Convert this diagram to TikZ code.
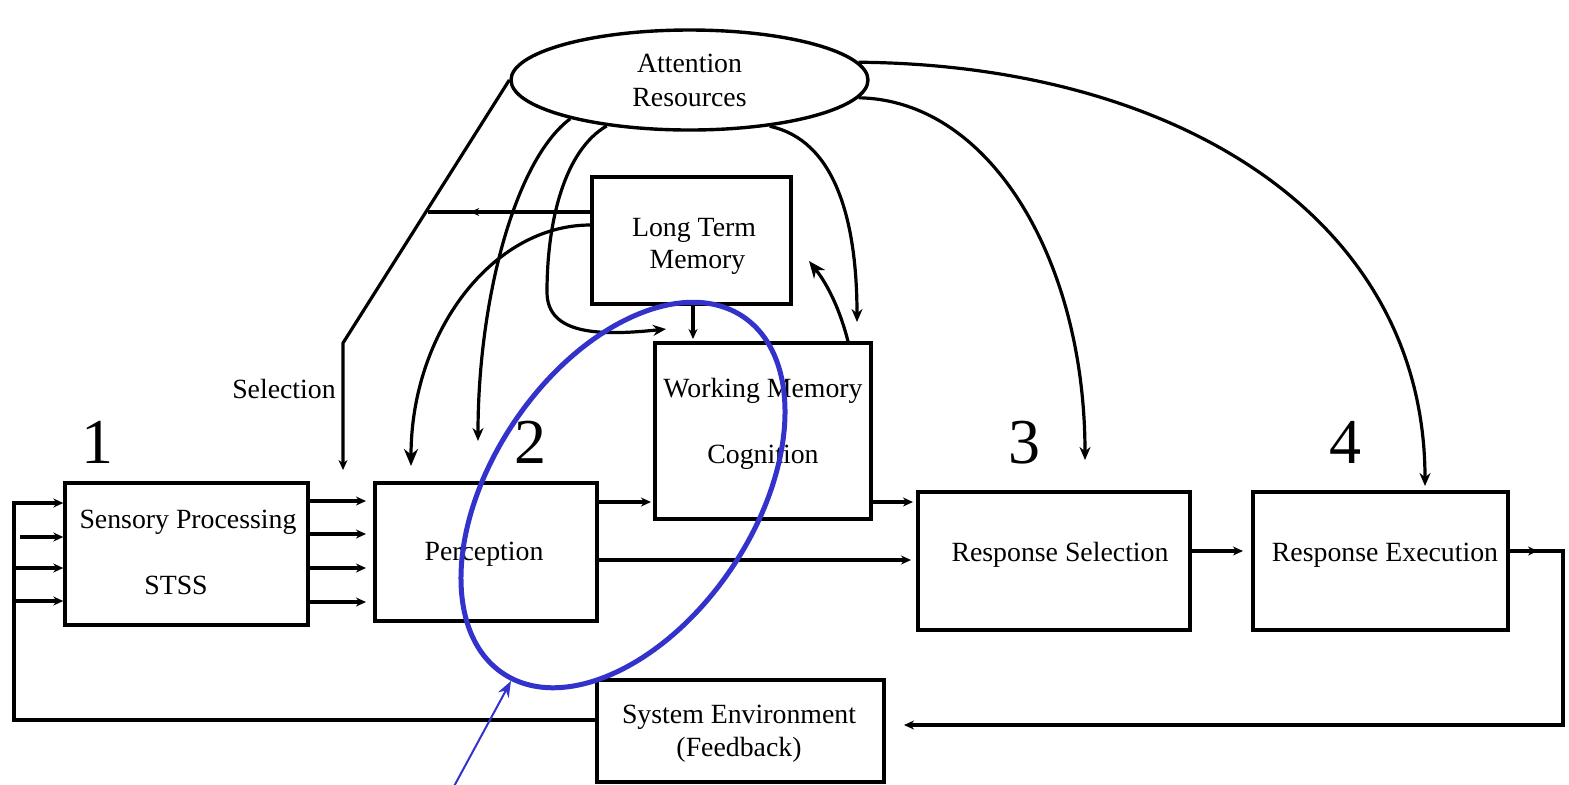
\documentclass[tikz,border=0pt]{standalone}
\usepackage{fontspec}
\setmainfont{Liberation Serif}
\usetikzlibrary{arrows.meta,shapes.geometric,decorations.markings}
\definecolor{markblue}{RGB}{51,51,204}
\begin{document}
\begin{tikzpicture}[x=0.5pt,y=-0.5pt,
  line width=1.6pt,
  box/.style={draw, line width=1.7pt, rectangle, inner sep=0pt},
  lbl/.style={font=\fontsize{13.9}{16}\selectfont, inner sep=0pt, align=center},
  num/.style={font=\fontsize{32}{36}\selectfont, inner sep=0pt, anchor=base},
  sarr/.style={-{Stealth[length=5pt,width=4.5pt]}},
  marr/.style={-{Stealth[length=6.5pt,width=5.5pt]}},
  barr/.style={-{Stealth[length=8.5pt,width=7pt]}},
  midarr/.style={postaction={decorate}, decoration={markings, mark=at position #1 with {\arrow{Stealth[length=4.5pt,width=4pt]}}}}
]
\fill[white] (0,0) rectangle (1569,784);
\useasboundingbox (0,0) rectangle (1569,784);

% nodes
\node[draw, ellipse, line width=1.7pt, minimum width=178.5pt, minimum height=50pt, lbl, font=\fontsize{13.9}{17}\selectfont] (att) at (689.5,80) {Attention\\Resources};
\node[box, minimum width=99.5pt, minimum height=63.5pt] (ltm) at (691.5,240.5) {};
\node[lbl, font=\fontsize{13.9}{16}\selectfont] (ltmt) at (694,246) {Long Term\\ \ Memory};
\node[box, minimum width=108pt, minimum height=88pt] (wm) at (763,431) {};
\node[lbl, font=\fontsize{13.9}{33}\selectfont] (wmt) at (763,424) {Working Memory\\Cognition};
\node[box, minimum width=121.5pt, minimum height=71pt] (sens) at (186.5,554) {};
\node[lbl] (senst) at (188,522) {Sensory Processing};
\node[lbl] (stss) at (176,585) {STSS};
\node[box, minimum width=111pt, minimum height=69pt] (per) at (486,552) {};
\node[lbl] (pert) at (484,554) {Perception};
\node[box, minimum width=136pt, minimum height=69pt] (rs) at (1054,561) {};
\node[lbl] (rst) at (1060,555) {Response Selection};
\node[box, minimum width=127.5pt, minimum height=69pt] (re) at (1380.5,561) {};
\node[lbl] (ret) at (1385,555) {Response Execution};
\node[box, minimum width=143.5pt, minimum height=51pt] (se) at (740.5,731) {};
\node[lbl, font=\fontsize{13.9}{16.5}\selectfont] (set) at (739,734) {System Environment\\(Feedback)};
\node[lbl] (sel) at (284,389) {Selection};
\node[num] (n1) at (97,463) {1};
\node[num] (n2) at (530,463) {2};
\node[num] (n3) at (1024,463) {3};
\node[num] (n4) at (1345,463) {4};

% feedback loop left
\coordinate (fb1) at (14,720);
\coordinate (fb2) at (14,503);
\draw[sarr] (se.west|-fb1) -- (fb1) -- (fb2) -- (sens.west|-fb2);
\coordinate (in2) at (20,537);
\coordinate (in3) at (14,568);
\coordinate (in4) at (14,601);
\draw[sarr] (in2) -- (sens.west|-in2);
\draw[sarr] (in3) -- (sens.west|-in3);
\draw[sarr] (in4) -- (sens.west|-in4);
% sensory outputs
\coordinate (o1) at (366,501);
\coordinate (o2) at (366,534);
\coordinate (o3) at (366,568);
\coordinate (o4) at (366,602);
\draw[sarr] (sens.east|-o1) -- (o1);
\draw[sarr] (sens.east|-o2) -- (o2);
\draw[sarr] (sens.east|-o3) -- (o3);
\draw[sarr] (sens.east|-o4) -- (o4);

% selection
\coordinate (s1) at (343,343);
\coordinate (s2) at (343,470);
\draw[sarr] (att.west) -- (s1) -- (s2);
\coordinate (ls) at (428,212);
\draw[midarr=0.74] (ltm.west|-ls) -- (ls);

% LTM -> perception
\coordinate (lp) at (592,225);
\coordinate (pin) at (411,466);
\draw[barr] (ltm.west|-lp) .. controls (492,225) and (411,333) .. (pin);

% attention -> perception area
\coordinate (a1) at (478,441);
\draw[marr] (att.198) .. controls (515,160) and (478,300) .. (a1);

% attention -> loop -> WM
\coordinate (k) at (547,292);
\coordinate (w1) at (666,329);
\draw[marr] (att.209) .. controls (565,150) and (547,220) .. (k) .. controls (547,335) and (600,336) .. (w1);

% LTM -> WM
\coordinate (lw) at (693,339);
\draw[sarr] (ltm.south -| lw) -- (lw);

% attention -> WM right
\coordinate (a2) at (857,322);
\draw[marr] (att.330) .. controls (835,140) and (857,220) .. (a2);

% WM -> LTM
\coordinate (wt) at (848,343);
\coordinate (wl) at (809,261);
\draw[barr] (wm.north -| wt) .. controls (840,310) and (828,285) .. (wl);

% attention -> RS and RE
\coordinate (a3) at (1085,460);
\coordinate (a4) at (1425,486);
\draw[marr] (att.354) .. controls (990,100) and (1085,260) .. (a3);
\draw[marr] (att.6) .. controls (1180,65) and (1425,220) .. (a4);

% horizontal flow
\coordinate (pw) at (651,502);
\coordinate (pr) at (911,560);
\coordinate (wr) at (913,502);
\coordinate (rr) at (1243,551);
\draw[sarr] (per.east|-pw) -- (pw);
\draw[sarr] (per.east|-pr) -- (pr);
\draw[sarr] (wm.east|-wr) -- (wr);
\draw[sarr] (rs.east|-rr) -- (rr);

% RE output feedback
\coordinate (r1) at (1538,551);
\coordinate (r2) at (1563,551);
\coordinate (r3) at (1563,725);
\coordinate (r4) at (904,725);
\draw[sarr] (re.east|-r1) -- (r1);
\draw[sarr] (re.east|-r1) -- (r2) -- (r3) -- (r4);

% blue highlight
\draw[markblue, line width=2.5pt, rotate around={56:(623,495)}] (623,495) ellipse [x radius=107.5pt, y radius=65.5pt];
\coordinate (bb) at (452,790);
\coordinate (bt) at (511,681);
\draw[markblue, line width=1pt, -{Stealth[length=8pt,width=6pt]}] (bb) -- (bt);
\end{tikzpicture}
\end{document}
